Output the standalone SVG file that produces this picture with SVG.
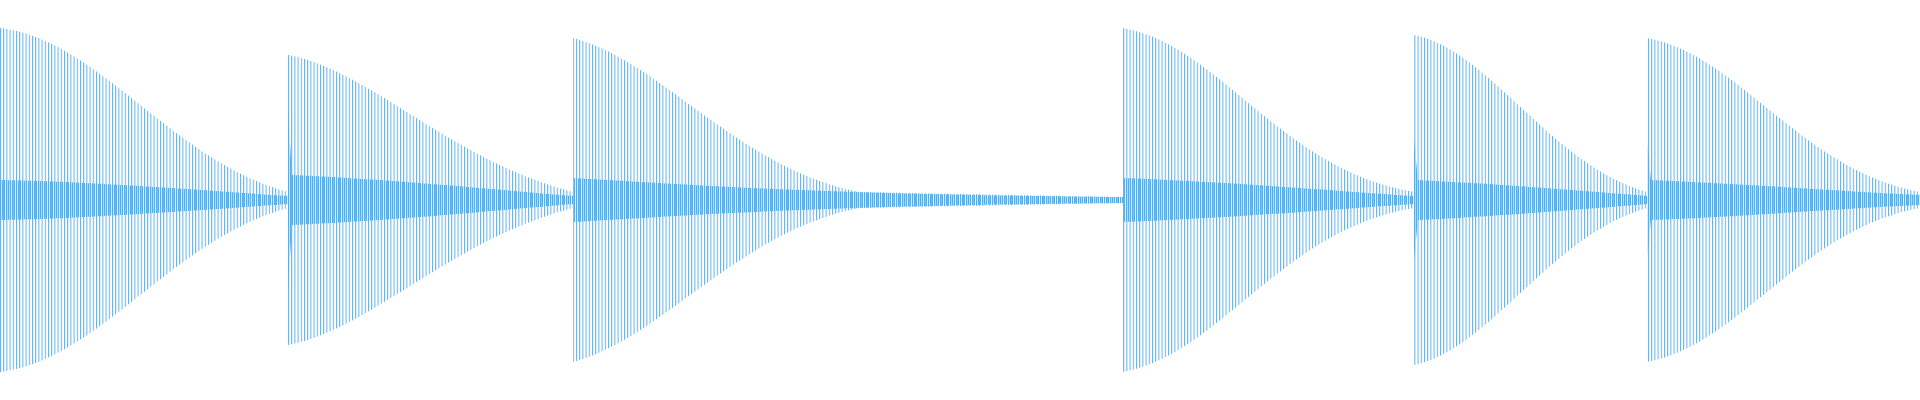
<svg xmlns="http://www.w3.org/2000/svg" width="1920" height="400" viewBox="0 0 1920 400">
<defs>
<pattern id="lines" patternUnits="userSpaceOnUse" width="3.2" height="400"><rect x="0" y="0" width="1" height="400" fill="#5DADE2"/></pattern>
<pattern id="dense" patternUnits="userSpaceOnUse" width="2" height="400"><rect x="0" y="0" width="1.2" height="400" fill="#5DADE2"/></pattern>
</defs>
<style>.env{fill:url(#lines)}.band{fill:url(#dense)}</style>
<rect width="1920" height="400" fill="#fff"/>
<g id="waveform">
<path class="env" d="M0,28 C100,40 170,160 288,192 L288,208 C170,240 100,360 0,372 Z"/>
<path class="env" d="M288,55 C370,70 450,160 573,192 L573,208 C450,240 370,330 288,345 Z"/>
<path class="env" d="M573,38 C660,60 740,170 860,192 L1123,197 L1123,203 L860,208 C740,230 660,340 573,362 Z"/>
<path class="env" d="M1123,28 C1220,45 1280,170 1414,192 L1414,208 C1280,230 1220,355 1123,372 Z"/>
<path class="env" d="M1414,35 C1490,50 1550,165 1647,192 L1647,208 C1550,235 1490,350 1414,365 Z"/>
<path class="env" d="M1647,38 C1740,55 1800,170 1920,192 L1920,208 C1800,230 1740,345 1647,362 Z"/>
<path class="band" d="M0,180 C100,182 200,190 288,196 L288,204 C200,210 100,218 0,220 Z"/>
<path class="band" d="M288,110 L292,175 C400,180 500,190 573,196 L573,204 C500,210 400,220 292,225 L288,290 Z"/>
<path class="band" d="M573,178 C700,185 800,194 1123,197 L1123,203 C800,206 700,215 573,222 Z"/>
<path class="band" d="M1123,178 C1250,183 1350,192 1414,196 L1414,204 C1350,208 1250,217 1123,222 Z"/>
<path class="band" d="M1414,140 L1418,180 C1500,184 1600,192 1647,196 L1647,204 C1600,208 1500,216 1418,220 L1414,260 Z"/>
<path class="band" d="M1647,140 L1651,180 C1750,184 1850,192 1920,195 L1920,205 C1850,208 1750,216 1651,220 L1647,260 Z"/>
</g>
</svg>
